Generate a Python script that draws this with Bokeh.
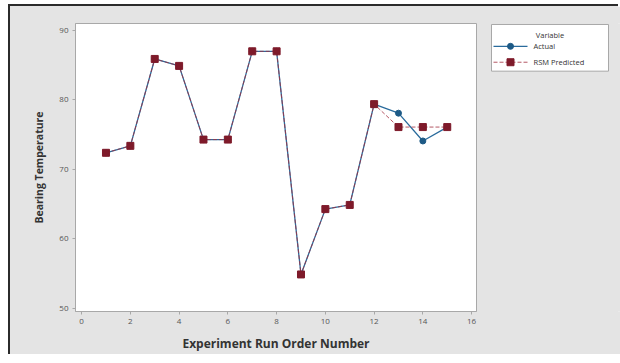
from bokeh.plotting import figure
from bokeh.layouts import row
from bokeh.models import Range1d, FixedTicker
from bokeh.core.properties import value
from bokeh.embed import file_html
from bokeh.resources import INLINE

# Bearing temperature per experiment run: measured vs. RSM model prediction
run_order = [1, 2, 3, 4, 5, 6, 7, 8, 9, 10, 11, 12, 13, 14, 15]
actual = [72.4, 73.4, 85.9, 84.9, 74.3, 74.3, 87.0, 87.0, 54.9, 64.3, 64.9, 79.4, 78.1, 74.1, 76.1]
rsm_predicted = [72.4, 73.4, 85.9, 84.9, 74.3, 74.3, 87.0, 87.0, 54.9, 64.3, 64.9, 79.4, 76.1, 76.1, 76.1]
x_ticks = [0, 2, 4, 6, 8, 10, 12, 14, 16]
y_ticks = [50, 60, 70, 80, 90]
series_names = ["Actual", "RSM Predicted"]
legend_title = "Variable"

BG = "#e4e4e4"
FRAME = "#a8a8a8"
BLUE_LINE = "#2a6b9c"
BLUE_MARK = "#1d5a86"
RED_LINE = "#a33040"
RED_MARK = "#7e1a2a"
FONT = "Open Sans"
H = 350
TOP, BOTTOM = 17, 43
FH = H - TOP - BOTTOM  # frame height shared by both panels of the row

p = figure(
    width=468, height=H,
    x_range=Range1d(-0.25, 16.2), y_range=Range1d(49.57, 91.0),
    output_backend="svg", toolbar_location=None,
    min_border_left=65, min_border_right=2, min_border_top=TOP, min_border_bottom=BOTTOM,
    background_fill_color="white", border_fill_color=BG,
)
p.outline_line_color = FRAME
p.xgrid.visible = False
p.ygrid.visible = False

for ax in (p.xaxis[0], p.yaxis[0]):
    ax.axis_line_color = FRAME
    ax.major_tick_line_color = FRAME
    ax.major_tick_out = 3
    ax.major_tick_in = 0
    ax.minor_tick_line_color = None
    ax.major_label_text_font = FONT
    ax.major_label_text_font_size = "8px"
    ax.major_label_text_color = "#555555"
    ax.axis_label_text_font = FONT
    ax.axis_label_text_font_style = "bold"
    ax.axis_label_text_color = "#333333"

p.xaxis.ticker = FixedTicker(ticks=x_ticks)
p.yaxis.ticker = FixedTicker(ticks=y_ticks)
p.xaxis.axis_label = "Experiment Run Order Number"
p.xaxis.axis_label_text_font_size = "12px"
p.xaxis.axis_label_standoff = 8
p.yaxis.axis_label = "Bearing Temperature"
p.yaxis.axis_label_text_font_size = "10.5px"
p.yaxis.axis_label_standoff = 10
p.xaxis.major_label_standoff = 4
p.yaxis.major_label_standoff = 4

# blue (actual) first, red dashed (predicted) drawn over it
act_line = dict(line_color=BLUE_LINE, line_width=1.3)
act_mark = dict(marker="circle", size=6, fill_color=BLUE_MARK, line_color=BLUE_MARK)
pred_line = dict(line_color=RED_LINE, line_width=1.0, line_dash="4 2", line_alpha=0.8)
pred_mark = dict(marker="square", size=7, fill_color=RED_MARK, line_color=RED_MARK)

p.line(run_order, actual, **act_line)
p.scatter(run_order, actual, **act_mark)
p.line(run_order, rsm_predicted, **pred_line)
p.scatter(run_order, rsm_predicted, **pred_mark)

# side panel with the legend key; its frame lines up with the main frame,
# so its ranges are pixels measured inside that frame
SW = 142
side = figure(
    width=SW, height=H, x_range=Range1d(0, SW), y_range=Range1d(0, FH),
    x_axis_location=None, y_axis_location=None,
    output_backend="svg", toolbar_location=None,
    min_border_left=0, min_border_right=0, min_border_top=TOP, min_border_bottom=BOTTOM,
    background_fill_color=BG, border_fill_color=BG,
)
side.outline_line_color = None
side.xgrid.visible = False
side.ygrid.visible = False

box_l, box_r, box_t, box_b = 13, 130, FH - 1, FH - 48
side.quad(left=[box_l], right=[box_r], top=[box_t], bottom=[box_b],
          fill_color="white", line_color=FRAME, line_width=1)
side.text(x=[(box_l + box_r) / 2], y=[FH - 12], text=[legend_title],
          text_font=value(FONT), text_font_size="7.5px", text_color="#333333",
          text_align="center", text_baseline="middle")

rows_y = [FH - 23, FH - 39]
sample_x0, sample_x1 = 15, 49
for yy, name, ln, mk in zip(rows_y, series_names, (act_line, pred_line), (act_mark, pred_mark)):
    side.line([sample_x0, sample_x1], [yy, yy], **ln)
    side.scatter([(sample_x0 + sample_x1) / 2], [yy], **mk)
    side.text(x=[55], y=[yy], text=[name],
              text_font=value(FONT), text_font_size="7.5px", text_color="#333333",
              text_align="left", text_baseline="middle")

layout = row(p, side, spacing=0, width=468 + SW, height=H)
layout.styles = {"border-top": "2px solid #2b2b2b", "border-left": "2px solid #2b2b2b",
                 "margin-top": "4px", "margin-left": "8px", "background-color": BG}

open("out.html", "w").write(file_html(layout, INLINE))
